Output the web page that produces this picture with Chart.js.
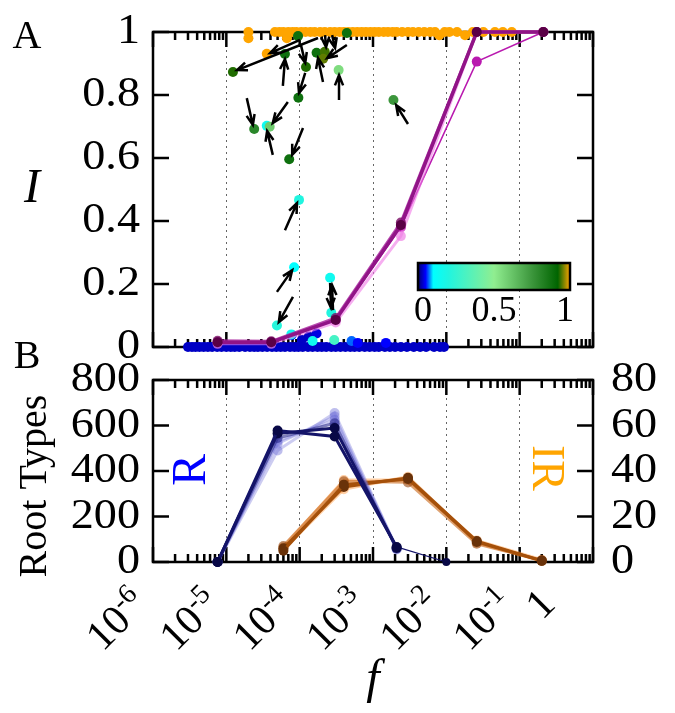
<!DOCTYPE html>
<html>
<head>
<meta charset="utf-8">
<script src="https://cdn.jsdelivr.net/npm/chart.js@4.4.0/dist/chart.umd.min.js"></script>
<style>
  html, body { margin: 0; padding: 0; background: #fff; }
  #wrap { position: relative; width: 675px; height: 713px; overflow: hidden; }
  #wrap canvas { position: absolute; left: 0; }
  #cA { top: 0; }
  #cB { top: 340px; }
</style>
</head>
<body>
<div id="wrap">
  <canvas id="cA" width="675" height="372"></canvas>
  <canvas id="cB" width="675" height="373"></canvas>
</div>
<script>
// ---- axes ----
const decades = [1e-6, 1e-5, 1e-4, 1e-3, 1e-2, 1e-1, 1];
const decadeExp = ['-6', '-5', '-4', '-3', '-2', '-1', ''];
const minorMult = [2, 3, 4, 5, 6, 7, 8, 9];
const iTicks = [0, 0.2, 0.4, 0.6, 0.8, 1];
const rTicks = [0, 200, 400, 600, 800];
const irTicks = [0, 20, 40, 60, 80];
const cbarTicks = [0, 0.5, 1];

// ---- panel A: I vs f, several runs ----
const fracX = [7.6e-6, 4.1e-5, 3.1e-4, 2.4e-3, 2.6e-2, 0.21];
const runA = [0.015, 0.015, 0.086, 0.387, 1.0, 1.0];
const runB = [0.02, 0.018, 0.092, 0.395, 1.0, 1.0];
const runC = [0.01, 0.01, 0.078, 0.352, 1.0, 1.0];
const runD = [0.015, 0.016, 0.085, 0.38, 0.906, 1.0];

// species sitting at I = 0
const zeroX = [3e-6, 3.4e-6, 3.8e-6, 4.3e-6, 4.9e-6, 5.6e-6, 6.4e-6, 7.5e-6, 8.6e-6, 1e-5,
  1.15e-5, 1.3e-5, 1.5e-5, 1.8e-5, 2.1e-5, 2.4e-5, 2.7e-5, 3.1e-5, 3.6e-5, 4.2e-5,
  4.8e-5, 5.5e-5, 6.3e-5, 7.4e-5, 8.5e-5, 9.6e-5, 1.1e-4, 1.3e-4, 1.5e-4, 1.75e-4,
  2e-4, 2.3e-4, 2.7e-4, 3.1e-4, 3.6e-4, 4.2e-4, 4.9e-4, 5.6e-4, 6.5e-4, 7.7e-4,
  9e-4, 1.05e-3, 1.2e-3, 1.45e-3, 1.7e-3, 2e-3, 2.4e-3, 2.9e-3, 3.6e-3, 4.4e-3,
  5.3e-3, 6.8e-3, 8.2e-3, 9.3e-3];

// species sitting at I = 1
const oneX = [2e-5, 2e-5, 4.6e-5, 5.3e-5, 6e-5, 6.7e-5, 7e-5, 8e-5, 9e-5, 1.05e-4,
  1.2e-4, 1.4e-4, 1.6e-4, 1.9e-4, 2.2e-4, 2.6e-4, 3e-4, 3.5e-4, 4e-4, 4.6e-4,
  5.3e-4, 6.1e-4, 7e-4, 8e-4, 9.2e-4, 1.05e-3, 1.2e-3, 1.4e-3, 1.6e-3, 1.85e-3,
  2.1e-3, 2.5e-3, 3e-3, 3.5e-3, 4.2e-3, 5e-3, 6e-3, 7e-3, 8e-3, 9.5e-3,
  1.1e-2, 1.4e-2, 1.8e-2, 2.3e-2, 3.2e-2, 4.6e-2, 5.9e-2, 7.8e-2];
const oneY = [1, 0.98, 1, 1, 1, 0.98, 1, 1, 1, 1,
  1, 1, 1, 1, 1, 1, 1, 1, 1, 1,
  1, 1, 1, 1, 1, 1, 1, 1, 1, 1,
  1, 1, 1, 1, 1, 1, 1, 1, 0.99, 1,
  1, 1, 0.99, 1, 1, 1, 1, 1];

// species in between, coloured by the colour-bar value
const spotX = [1.23e-5, 3.56e-5, 6.3e-5, 9.5e-5, 1.22e-4, 9.6e-5, 1.7e-4, 2.2e-4, 2.09e-4, 4.4e-4,
  3.4e-4, 1.9e-3, 2.4e-5, 3.56e-5, 3.9e-5, 7.2e-5, 9.8e-5, 8.4e-5, 4.9e-5, 2.6e-4,
  2.7e-4, 7.8e-5, 1.07e-4, 1.33e-4, 1.7e-4, 1.5e-4, 2.96e-4, 5.1e-4, 6.2e-4, 7.7e-5, 1.5e-3];
const spotY = [0.873, 0.931, 0.93, 0.987, 0.889, 0.791, 0.934, 0.937, 0.915, 0.997,
  0.879, 0.784, 0.692, 0.702, 0.699, 0.596, 0.467, 0.253, 0.068, 0.22,
  0.109, 0.038, 0.022, 0.033, 0.043, 0.019, 0.022, 0.019, 0.013, 0.04, 0.013];
const spotC = [0.93, 1.0, 0.88, 0.88, 0.93, 0.88, 0.88, 0.94, 0.95, 0.88,
  0.55, 0.75, 0.8, 0.15, 0.6, 0.88, 0.2, 0.1, 0.22, 0.15,
  0.2, 0.05, 0.03, 0.03, 0.04, 0.15, 0.3, 0.07, 0.05, 0.15, 0.05];

// arrows (tail -> head)
const arrowX0 = [1.78e-4, 1.01e-4, 5.9e-5, 1.04e-4, 1.19e-4, 2.08e-4, 4.4e-4, 3.44e-4, 3.0e-3, 1.9e-5,
  6.9e-5, 4.3e-5, 1.11e-4, 6.3e-5, 4.9e-5, 8.1e-5, 2.6e-4, 2.85e-4, 2.22e-4, 2.77e-4];
const arrowY0 = [0.981, 0.975, 0.829, 0.959, 0.87, 0.841, 0.959, 0.784, 0.708, 0.79,
  0.778, 0.61, 0.695, 0.371, 0.175, 0.159, 0.203, 0.117, 0.99, 0.99];
const arrowX1 = [1.4e-5, 3.95e-5, 6.3e-5, 1.19e-4, 9.8e-5, 1.78e-4, 2.37e-4, 3.44e-4, 2.07e-3, 2.3e-5,
  4.3e-5, 3.6e-5, 7.9e-5, 9.2e-5, 7.9e-5, 5.2e-5, 2.68e-4, 2.76e-4, 2.29e-4, 3.04e-4];
const arrowY1 = [0.879, 0.933, 0.914, 0.902, 0.806, 0.917, 0.917, 0.863, 0.768, 0.705,
  0.711, 0.686, 0.61, 0.457, 0.244, 0.079, 0.124, 0.197, 0.952, 0.949];

// ---- panel B: root types ----
const rX = [7.6e-6, 5e-5, 3e-4, 2.1e-3, 1e-2];
const rRun1 = [0, 578, 552, 66, 0];
const rRun2 = [0, 565, 589, 62];
const rRun3 = [0, 545, 610, 58];
const rRun4 = [0, 520, 640, 55];
const rRun5 = [0, 490, 655, 60];
const rRun6 = [0, 530, 625, 64];

const irX = [6e-5, 4e-4, 3e-3, 2.6e-2, 0.2];
const irRun1 = [5, 34, 36.5, 8.8, 0.5];
const irRun2 = [6, 33, 37, 9.2, 0.6];
const irRun3 = [7, 35.5, 35, 8, 0.8];
const irRun4 = [6.5, 36, 36, 9.5, 1];
const irRun5 = [5.5, 32, 37.5, 8.5, 0.4];

// colour bar
const cmapStops = [0, 0.05, 0.1, 0.2, 0.5, 0.75, 0.92, 1];
const cmapColors = ['#00006e', '#0000ff', '#00ffff', '#20f5e0', '#90ee90', '#3c963c', '#006400', '#ffa500'];

const serif = "'Liberation Serif', 'Times New Roman', serif";
const TICK_FONT = `42px ${serif}`;
const TICK_STRETCH = 1.1;

function hexRgb(h) {
  const n = parseInt(h.slice(1), 16);
  return [(n >> 16) & 255, (n >> 8) & 255, n & 255];
}
function cmap(c) {
  for (let i = 1; i < cmapStops.length; i++) {
    if (c <= cmapStops[i]) {
      const t = (c - cmapStops[i - 1]) / (cmapStops[i] - cmapStops[i - 1]);
      const a = hexRgb(cmapColors[i - 1]), b = hexRgb(cmapColors[i]);
      const m = a.map((v, k) => Math.round(v + (b[k] - v) * t));
      return `rgb(${m[0]},${m[1]},${m[2]})`;
    }
  }
  return cmapColors[cmapColors.length - 1];
}
function pts(xs, ys) {
  return ys.map((y, i) => ({ x: xs[i], y: y }));
}
function run(xs, ys, line, dot, width, extra) {
  return Object.assign({
    data: pts(xs, ys), showLine: true, borderColor: line, borderWidth: width,
    pointRadius: 5, pointBackgroundColor: dot, pointBorderWidth: 0, clip: false
  }, extra || {});
}

function text(ctx, str, x, y, font, color, rot, align, sx) {
  ctx.save();
  ctx.translate(x, y);
  if (rot) ctx.rotate(rot);
  if (sx) ctx.scale(sx, 1);
  ctx.font = font;
  ctx.fillStyle = color || '#000';
  ctx.textAlign = align || 'center';
  ctx.textBaseline = 'middle';
  ctx.fillText(str, 0, 0);
  ctx.restore();
}

// inward tick marks + frame, gnuplot style
function drawFrame(chart, yVals, yId) {
  const { ctx, chartArea: a, scales } = chart;
  const xs = scales.x, ys = scales[yId];
  ctx.save();
  ctx.strokeStyle = '#000';
  ctx.lineWidth = 2.5;
  ctx.beginPath();
  decades.forEach((d, i) => {
    const list = i < decades.length - 1 ? [1].concat(minorMult) : [1];
    list.forEach(m => {
      const px = xs.getPixelForValue(d * m);
      const len = m === 1 ? 15 : 8;
      ctx.moveTo(px, a.bottom); ctx.lineTo(px, a.bottom - len);
      ctx.moveTo(px, a.top); ctx.lineTo(px, a.top + len);
    });
  });
  yVals.forEach(v => {
    const py = ys.getPixelForValue(v);
    ctx.moveTo(a.left, py); ctx.lineTo(a.left + 16, py);
    ctx.moveTo(a.right, py); ctx.lineTo(a.right - 16, py);
  });
  ctx.stroke();
  ctx.strokeRect(a.left, a.top, a.right - a.left, a.bottom - a.top);
  ctx.restore();
}

// tick numbers placed through the scale, slightly widened like the original
function drawYLabels(chart, scaleId, vals, side) {
  const { ctx, chartArea: a } = chart;
  const s = chart.scales[scaleId];
  vals.forEach(v => {
    const py = s.getPixelForValue(v);
    if (side === 'left') text(ctx, String(v), a.left - 13, py, TICK_FONT, '#000', 0, 'right', TICK_STRETCH);
    else text(ctx, String(v), a.right + 18, py, TICK_FONT, '#000', 0, 'left', TICK_STRETCH);
  });
}

function drawArrow(ctx, x0, y0, x1, y1) {
  const ang = Math.atan2(y1 - y0, x1 - x0), L = 11, sp = 0.38;
  ctx.beginPath();
  ctx.moveTo(x0, y0); ctx.lineTo(x1, y1);
  ctx.moveTo(x1 - L * Math.cos(ang - sp), y1 - L * Math.sin(ang - sp));
  ctx.lineTo(x1, y1);
  ctx.lineTo(x1 - L * Math.cos(ang + sp), y1 - L * Math.sin(ang + sp));
  ctx.stroke();
}

const decadeGrid = {
  drawTicks: false, lineWidth: 1,
  color: c => (c.tick && c.tick.value > 1e-6 && c.tick.value < 1) ? '#666' : 'rgba(0,0,0,0)'
};

const panelA = {
  id: 'panelA',
  beforeDatasetsDraw(chart) { drawFrame(chart, iTicks, 'y'); },
  afterDatasetsDraw(chart) {
    const { ctx, scales } = chart;
    ctx.save();
    ctx.strokeStyle = '#000';
    ctx.lineWidth = 2.5;
    arrowX0.forEach((x, i) => {
      drawArrow(ctx,
        scales.x.getPixelForValue(x), scales.y.getPixelForValue(arrowY0[i]),
        scales.x.getPixelForValue(arrowX1[i]), scales.y.getPixelForValue(arrowY1[i]));
    });
    ctx.restore();
  },
  afterDraw(chart) {
    const { ctx } = chart;
    drawYLabels(chart, 'y', iTicks, 'left');
    // colour bar
    const bx0 = 418, bx1 = 570, by0 = 263, by1 = 290;
    const g = ctx.createLinearGradient(bx0, 0, bx1, 0);
    cmapStops.forEach((s, i) => g.addColorStop(s, cmapColors[i]));
    ctx.save();
    ctx.fillStyle = g;
    ctx.fillRect(bx0, by0, bx1 - bx0, by1 - by0);
    ctx.strokeStyle = '#000';
    ctx.lineWidth = 2.5;
    ctx.strokeRect(bx0, by0, bx1 - bx0, by1 - by0);
    ctx.restore();
    cbarTicks.forEach(v => {
      text(ctx, String(v), bx0 + 5 + v * (bx1 - bx0 - 10), 312, `36px ${serif}`);
    });
    text(ctx, 'A', 27, 37, `40px ${serif}`);
    text(ctx, 'B', 27, 357, `40px ${serif}`);
    text(ctx, 'I', 32, 189, `italic 48px ${serif}`);
  }
};

const panelB = {
  id: 'panelB',
  beforeDatasetsDraw(chart) { drawFrame(chart, rTicks, 'y'); },
  afterDraw(chart) {
    const { ctx, chartArea: a, scales } = chart;
    drawYLabels(chart, 'y', rTicks, 'left');
    drawYLabels(chart, 'y2', irTicks, 'right');
    // rotated decade labels
    decades.forEach((d, i) => {
      const px = scales.x.getPixelForValue(d);
      const exp = decadeExp[i];
      ctx.save();
      ctx.translate(exp ? px - 4 : px - 36, a.bottom + 44);
      ctx.rotate(-45 * Math.PI / 180);
      ctx.fillStyle = '#000';
      ctx.textBaseline = 'alphabetic';
      ctx.textAlign = 'left';
      ctx.font = `42px ${serif}`;
      const base = exp ? '10' : '1';
      const wb = ctx.measureText(base).width;
      ctx.font = `28px ${serif}`;
      const we = exp ? ctx.measureText(exp).width : 0;
      ctx.font = `42px ${serif}`;
      ctx.fillText(base, -(wb + we), 0);
      if (exp) {
        ctx.font = `28px ${serif}`;
        ctx.fillText(exp, -we, -15);
      }
      ctx.restore();
    });
    text(ctx, 'f', (a.left + a.right) / 2, 340, `italic 48px ${serif}`);
    text(ctx, 'Root Types', 35, 146, `40px ${serif}`, '#000', -Math.PI / 2);
    text(ctx, 'R', 192, 130, `48px ${serif}`, '#0000ff', -Math.PI / 2);
    text(ctx, 'IR', 545, 128, `46px ${serif}`, '#ffa500', Math.PI / 2);
  }
};

const common = {
  responsive: false,
  animation: false,
  events: [],
  plugins: { legend: { display: false }, tooltip: { enabled: false } }
};

function logX(height) {
  return {
    type: 'logarithmic', min: 1e-6, max: 1,
    afterBuildTicks: s => { s.ticks = decades.map(v => ({ value: v })); },
    afterFit: s => { s.height = height; },
    ticks: { display: false },
    grid: decadeGrid,
    border: { display: false, dash: [2, 4] }
  };
}
function linY(pos, min, max, vals, width) {
  return {
    position: pos, min: min, max: max,
    afterBuildTicks: s => { s.ticks = vals.map(v => ({ value: v })); },
    afterFit: s => { s.width = width; },
    ticks: { display: false },
    grid: { display: false },
    border: { display: false }
  };
}

new Chart(document.getElementById('cA'), {
  type: 'scatter',
  data: {
    datasets: [
      run(fracX, runA, 'rgb(145,20,135)', 'rgb(90,0,70)', 3.5),
      run(fracX, runB, 'rgba(165,30,155,0.8)', 'rgba(120,10,100,0.8)', 3),
      run(fracX, runC, 'rgba(240,120,230,0.6)', 'rgba(240,130,230,0.7)', 3),
      run(fracX, runD, 'rgb(185,25,175)', 'rgb(185,25,175)', 1.5),
      { data: pts(spotX, spotY), pointRadius: 5, pointBorderWidth: 0,
        pointBackgroundColor: spotC.map(cmap), clip: false },
      { data: pts(oneX, oneY), pointRadius: 5, pointBorderWidth: 0,
        pointBackgroundColor: cmap(1), clip: false },
      { data: zeroX.map(x => ({ x: x, y: 0 })), pointRadius: 5, pointBorderWidth: 0,
        pointBackgroundColor: cmap(0.03), clip: false }
    ]
  },
  options: Object.assign({}, common, {
    layout: { padding: { top: 32, right: 82, left: 0, bottom: 0 } },
    scales: { x: logX(25), y: linY('left', 0, 1, iTicks, 153) }
  }),
  plugins: [panelA]
});

const navy = 'rgb(20,20,105)', navyDot = 'rgb(8,8,70)';
const paleBlue = 'rgba(110,110,215,0.35)', paleBlueDot = 'rgba(110,110,215,0.45)';
const brown = 'rgb(165,80,10)', brownDot = 'rgb(105,50,10)';
const paleOrange = 'rgba(255,150,60,0.45)';

new Chart(document.getElementById('cB'), {
  type: 'scatter',
  data: {
    datasets: [
      run(rX, rRun1, navy, navyDot, 3, { yAxisID: 'y',
        segment: { borderWidth: c => c.p1DataIndex === 4 ? 1.3 : 3 },
        pointRadius: c => c.dataIndex === 4 ? 4 : 5 }),
      run(rX, rRun2, navy, navyDot, 3, { yAxisID: 'y' }),
      run(rX, rRun3, 'rgba(40,40,140,0.6)', 'rgba(40,40,140,0.6)', 3, { yAxisID: 'y' }),
      run(rX, rRun4, paleBlue, paleBlueDot, 3, { yAxisID: 'y' }),
      run(rX, rRun5, paleBlue, paleBlueDot, 3, { yAxisID: 'y' }),
      run(rX, rRun6, paleBlue, paleBlueDot, 3, { yAxisID: 'y' }),
      run(irX, irRun1, brown, brownDot, 3, { yAxisID: 'y2' }),
      run(irX, irRun2, brown, brownDot, 3, { yAxisID: 'y2' }),
      run(irX, irRun3, 'rgba(200,100,20,0.6)', 'rgba(150,70,15,0.6)', 3, { yAxisID: 'y2' }),
      run(irX, irRun4, paleOrange, paleOrange, 3, { yAxisID: 'y2' }),
      run(irX, irRun5, paleOrange, paleOrange, 3, { yAxisID: 'y2' })
    ]
  },
  options: Object.assign({}, common, {
    layout: { padding: { top: 40, right: 0, left: 0, bottom: 0 } },
    scales: {
      x: logX(151),
      y: linY('left', 0, 800, rTicks, 153),
      y2: linY('right', 0, 80, irTicks, 82)
    }
  }),
  plugins: [panelB]
});
</script>
</body>
</html>
